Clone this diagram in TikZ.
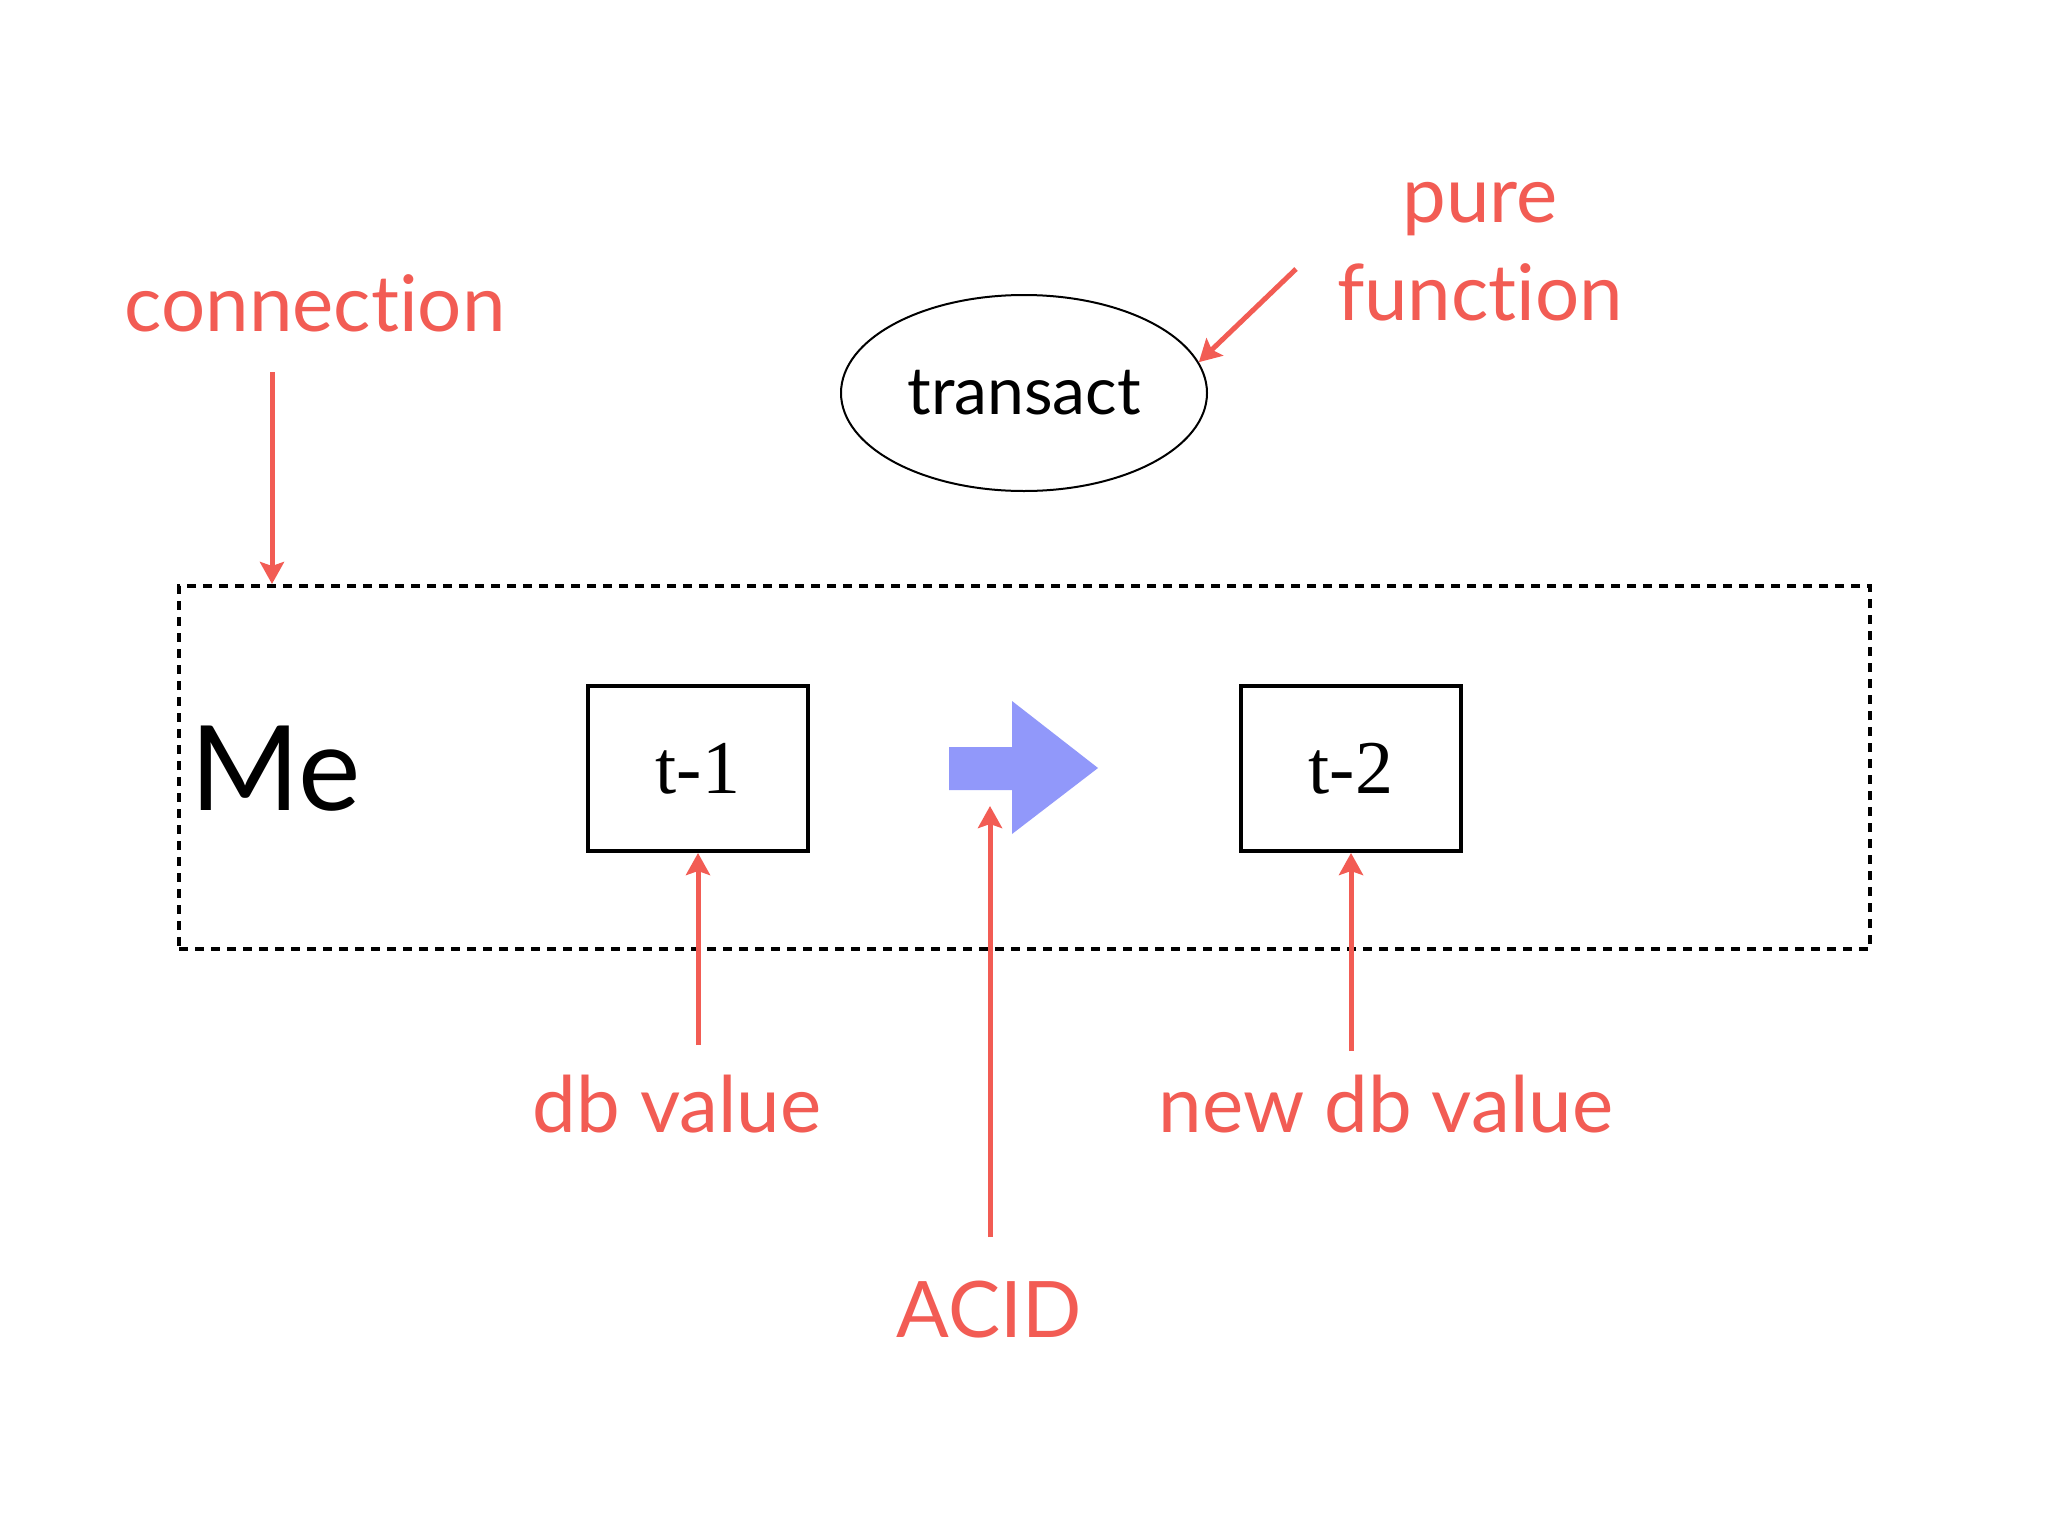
\documentclass[tikz,border=0pt]{standalone}
\usepackage{fontspec}
\setmainfont{Liberation Serif}
\newfontfamily\labelfont[RawFeature=-liga]{Lato}
\newfontfamily\sansfont{Lato}
\usetikzlibrary{arrows.meta,shapes.geometric}
\definecolor{callred}{RGB}{242,92,84}
\definecolor{flowblue}{RGB}{145,152,250}
\begin{document}
\begin{tikzpicture}[x=0.5pt,y=-0.5pt,
  lbl/.style={text=callred,font=\labelfont\fontsize{39}{49}\selectfont,inner sep=0pt,align=center},
  callout/.style={draw=callred,line width=2.5pt,-{Stealth[length=11pt,width=12pt,inset=2pt]}},
  tbox/.style={draw,line width=2pt,minimum width=110pt,minimum height=82.5pt,inner sep=0pt,font=\fontsize{38}{40}\selectfont},
]
\fill[white] (0,0) rectangle (2048,1536);
\useasboundingbox (0,0) rectangle (2048,1536);
% frame
\node[draw,line width=2pt,dash pattern=on 4.5pt off 3.5pt,minimum width=845.5pt,minimum height=181.5pt,inner sep=0pt] (frame) at (1024.5,767.5) {};
\node[anchor=base west,inner sep=0pt,font=\sansfont\fontsize{59}{62}\selectfont] (me) at (190,810) {Me};
% boxes
\node[tbox] (t1) at (698,768.5) {t-1};
\node[tbox] (t2) at (1351,768.5) {t-2};
% blue arrow
\fill[flowblue] (949,747) -- (1012,747) -- (1012,701) -- (1098,768) -- (1012,834) -- (1012,790) -- (949,790) -- cycle;
% ellipse
\node[ellipse,draw,line width=1pt,minimum width=183pt,minimum height=98pt,inner sep=0pt,font=\sansfont\fontsize{33}{35}\selectfont] (trans) at (1024,393) {transact};
% labels
\node[lbl] (pf) at (1480,252) {pure\\function};
\node[lbl] (conn) at (315,303) {connection};
\node[lbl] (dbv) at (677,1104) {db value};
\node[lbl] (acid) at (989,1310) {ACID};
\node[lbl] (ndbv) at (1386,1104) {new db value};
% callout coordinates
\coordinate (pfstart) at (1296,269);
\coordinate (connstart) at (272,372);
\coordinate (dbvstart) at (698,1045);
\coordinate (acidstart) at (990,1237);
\coordinate (acidtip) at (990,806);
\coordinate (ndbvstart) at (1351,1051);
% callouts
\draw[callout] (pfstart) -- (trans.10);
\draw[callout] (connstart) -- (connstart |- frame.north);
\draw[callout] (dbvstart) -- (t1.south);
\draw[callout] (acidstart) -- (acidtip);
\draw[callout] (ndbvstart) -- (t2.south);
\end{tikzpicture}
\end{document}
